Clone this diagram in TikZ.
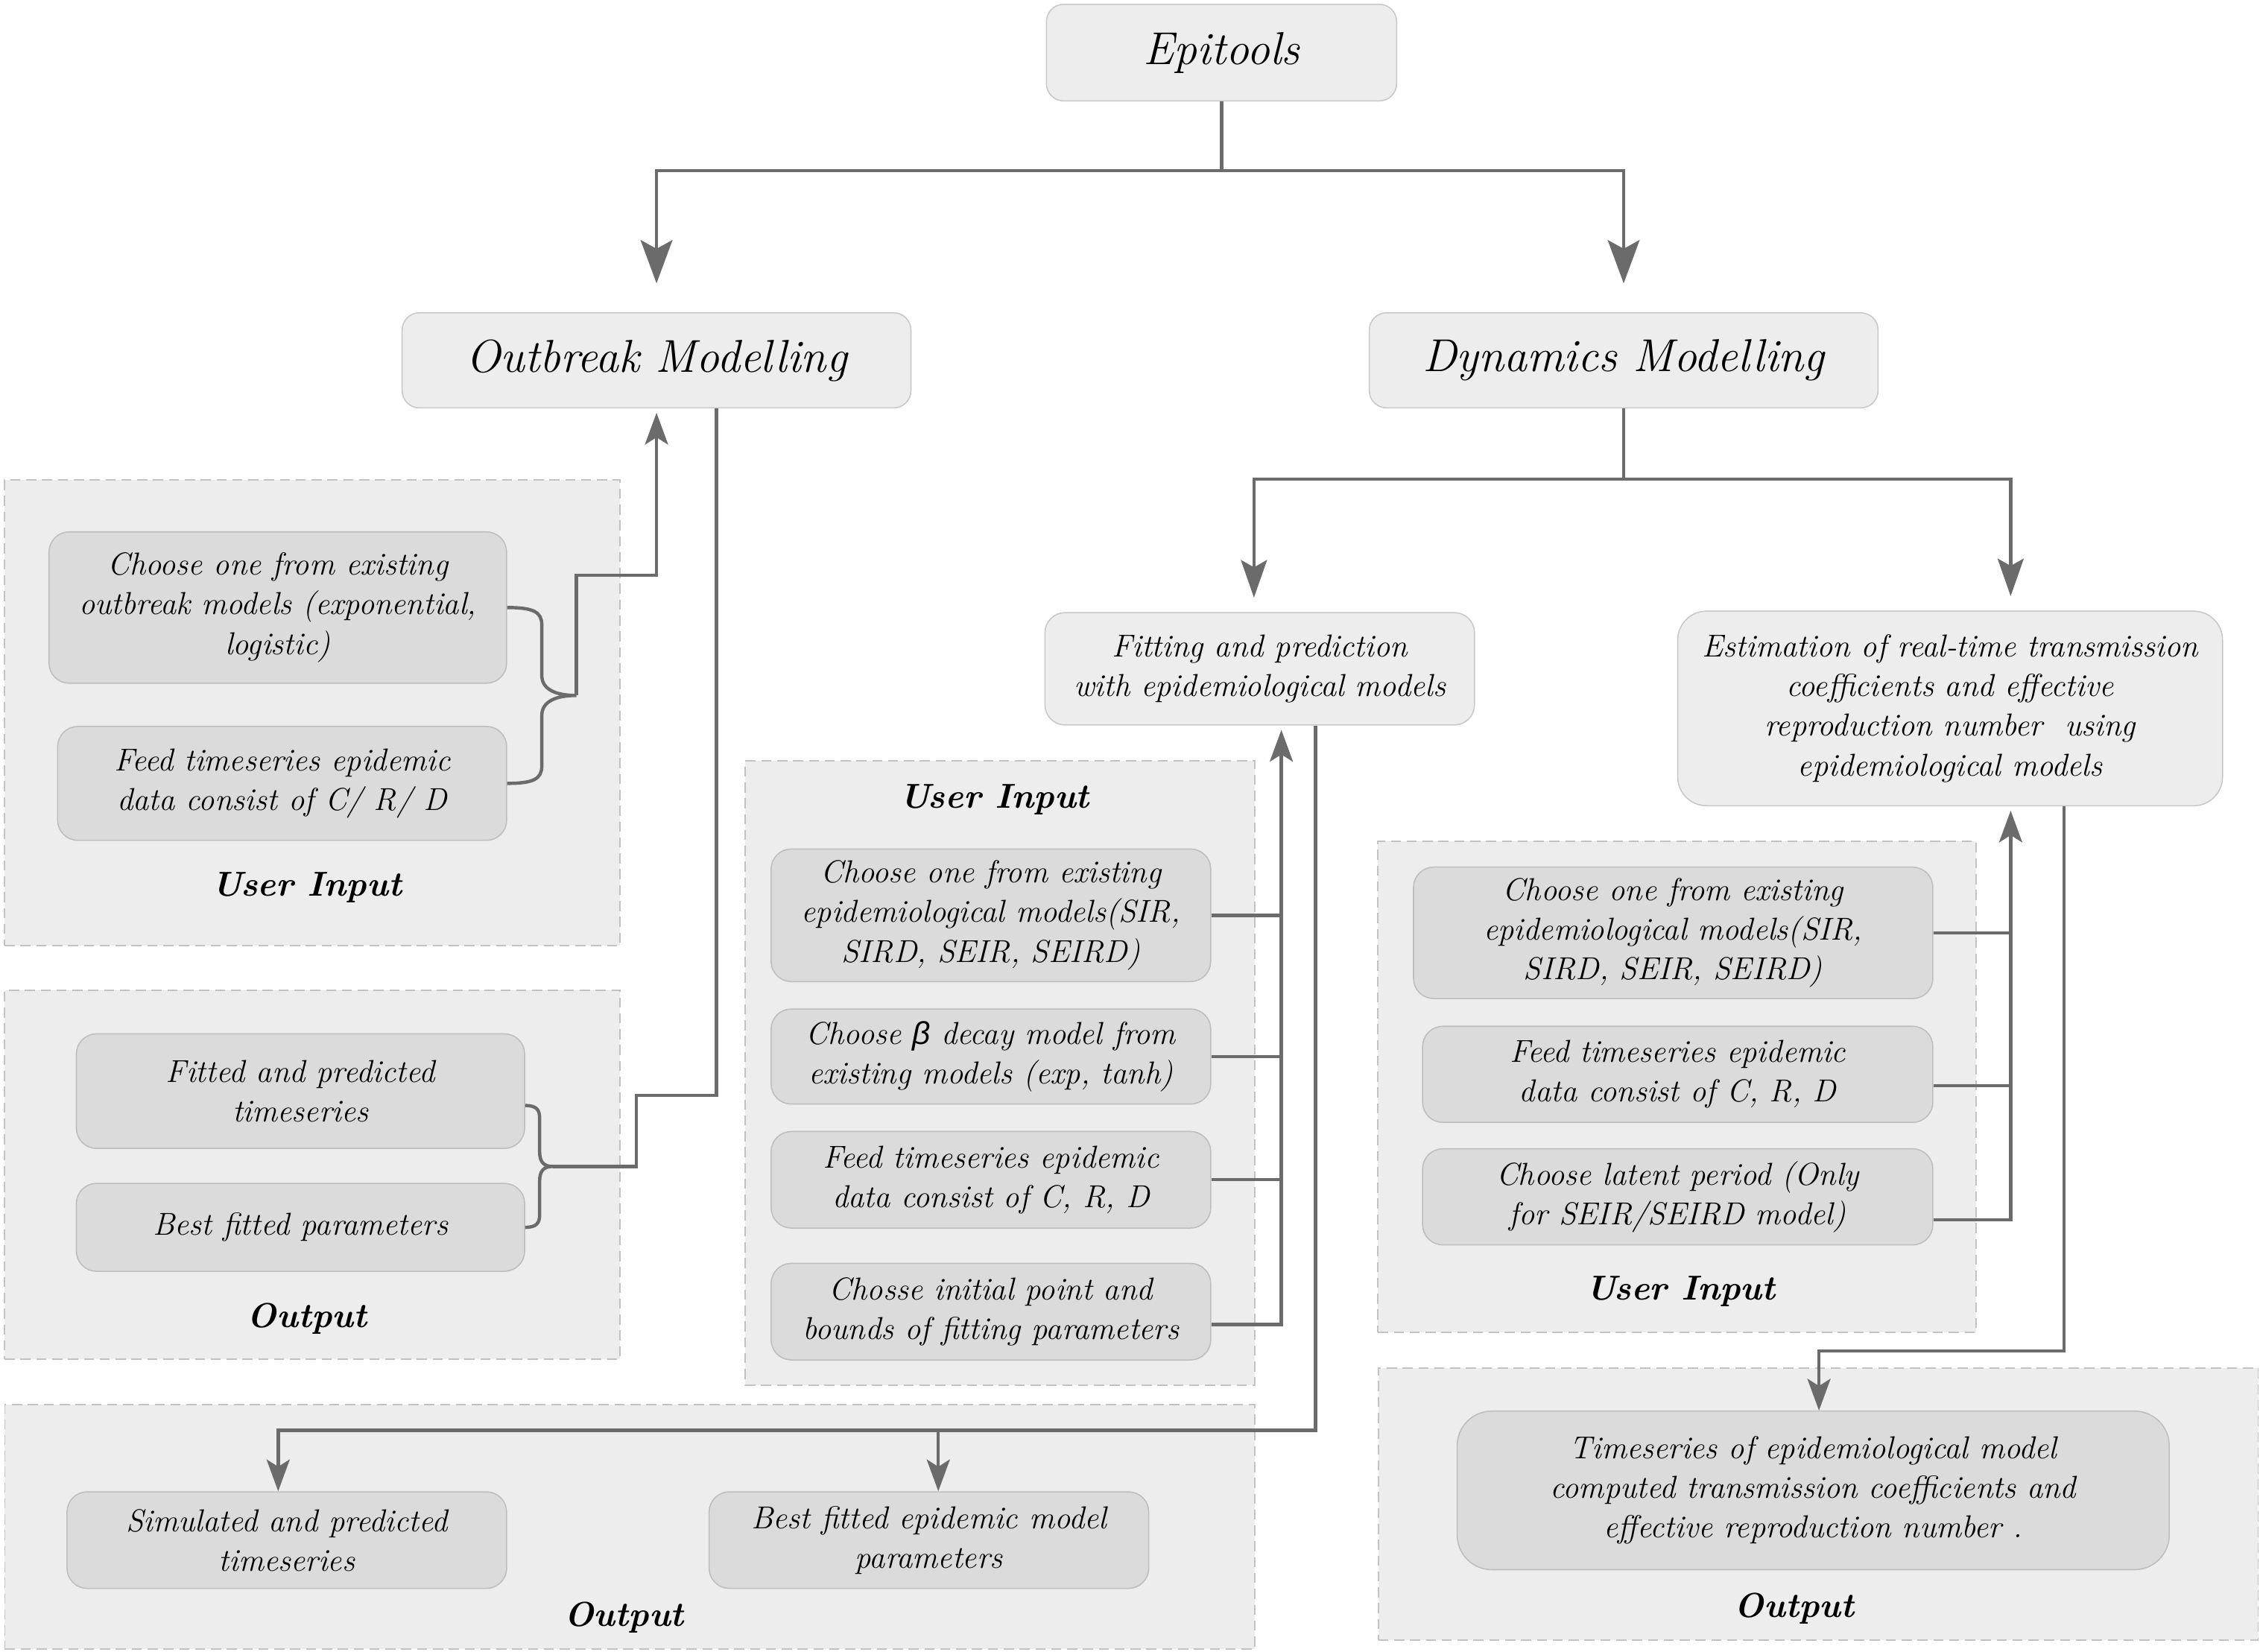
\documentclass[tikz,border=0pt]{standalone}
\usepackage{fontspec}
\newfontfamily\greekfont{Liberation Sans}
\usetikzlibrary{arrows.meta,positioning}
\definecolor{panelfill}{HTML}{EDEDED}
\definecolor{paneldraw}{HTML}{C2C2C2}
\definecolor{boxfill}{HTML}{DBDBDB}
\definecolor{boxdraw}{HTML}{BDBDBD}
\definecolor{topfill}{HTML}{EDEDED}
\definecolor{topdraw}{HTML}{C8C8C8}
\definecolor{linkgray}{HTML}{6B6B6B}

\begin{document}
\begin{tikzpicture}[x=1pt, y=-1pt,
  panel/.style={draw=paneldraw, fill=panelfill, dash pattern=on 7pt off 4pt, line width=0.9pt, inner sep=0pt},
  topbox/.style={draw=topdraw, fill=topfill, rounded corners=12pt, line width=0.8pt, inner sep=0pt, align=center, font=\fontsize{32}{38}\selectfont\itshape},
  subbox/.style={draw=boxdraw, fill=boxfill, rounded corners=14pt, line width=0.8pt, inner sep=0pt, align=center, font=\fontsize{22}{27.5}\selectfont\itshape},
  midbox/.style={subbox, fill=topfill, draw=topdraw},
  tag/.style={font=\fontsize{24}{28}\selectfont\bfseries\itshape},
  link/.style={draw=linkgray, line width=2.3pt},
  flow/.style={link, -{Stealth[length=22pt, width=16pt, inset=5pt]}},
  midflow/.style={link, -{Stealth[length=26pt, width=18pt, inset=5pt]}},
  bigflow/.style={link, -{Stealth[length=30pt, width=22pt, inset=6pt]}}]
\fill[white] (0,0) rectangle (1568,1146);
\useasboundingbox (0,0) rectangle (1568,1146);

% panels
\node [panel, minimum width=427, minimum height=323] (OINP) at (216.7,494.5) {};
\node [panel, minimum width=427, minimum height=256] (OOUTP) at (216.7,815) {};
\node [panel, minimum width=353.6, minimum height=433] (FINP) at (693.8,744.5) {};
\node [panel, minimum width=867.3, minimum height=169.4] (FOUTP) at (437,1059.3) {};
\node [panel, minimum width=415, minimum height=341] (EINP) at (1163.5,754) {};
\node [panel, minimum width=610.4, minimum height=189] (EOUTP) at (1261.5,1043.5) {};

% main boxes
\node [topbox, minimum width=243, minimum height=67] (EPI) at (847.5,36.5) {Epitools};
\node [topbox, minimum width=353, minimum height=66] (OUT) at (455.5,250) {Outbreak Modelling};
\node [topbox, minimum width=353, minimum height=66] (DYN) at (1126.5,250) {Dynamics Modelling};
\node [midbox, minimum width=298, minimum height=78] (FIT) at (874,464) {Fitting and prediction\\with epidemiological models};
\node [midbox, rounded corners=20pt, minimum width=378, minimum height=135] (EST) at (1353,491.5) {Estimation of real-time transmission\\coefficients and effective\\reproduction number\ \ using\\epidemiological models};

% outbreak modelling
\node [subbox, minimum width=317.5, minimum height=105] (OIN1) at (192.75,421.5) {Choose one from existing\\outbreak models (exponential,\\logistic)};
\node [subbox, minimum width=311.5, minimum height=79] (OIN2) at (195.75,543.5) {Feed timeseries epidemic\\data consist of C/ R/ D};
\node [tag] (OINL) at (213,616) {User Input};
\node [subbox, minimum width=311, minimum height=79.5] (OOUT1) at (208.5,757) {Fitted and predicted\\timeseries};
\node [subbox, minimum width=311, minimum height=61] (OOUT2) at (208.5,851.5) {Best fitted parameters};
\node [tag] (OOUTL) at (213,915) {Output};

% fitting and prediction
\node [tag] (FINL) at (690,555) {User Input};
\node [subbox, minimum width=305, minimum height=92] (FIN1) at (687.5,635) {Choose one from existing\\epidemiological models(SIR,\\SIRD, SEIR, SEIRD)};
\node [subbox, minimum width=305, minimum height=66] (FIN2) at (687.5,733) {Choose {\greekfont β} decay model from\\existing models (exp, tanh)};
\node [subbox, minimum width=305, minimum height=67] (FIN3) at (687.5,818.5) {Feed timeseries epidemic\\data consist of C, R, D};
\node [subbox, minimum width=305, minimum height=67] (FIN4) at (687.5,910) {Chosse initial point and\\bounds of fitting parameters};
\node [subbox, minimum width=305, minimum height=67] (FOUT1) at (199,1068.5) {Simulated and predicted\\timeseries};
\node [subbox, minimum width=305, minimum height=67] (FOUT2) at (644.5,1068.5) {Best fitted epidemic model\\parameters};
\node [tag] (FOUTL) at (433,1122) {Output};

% estimation
\node [subbox, minimum width=360.3, minimum height=91.2] (EIN1) at (1160.85,647.2) {Choose one from existing\\epidemiological models(SIR,\\SIRD, SEIR, SEIRD)};
\node [subbox, minimum width=354, minimum height=66.7] (EIN2) at (1164,745.35) {Feed timeseries epidemic\\data consist of C, R, D};
\node [subbox, minimum width=354, minimum height=66.7] (EIN3) at (1164,830.35) {Choose latent period (Only\\for SEIR/SEIRD model)};
\node [tag] (EINL) at (1166,896) {User Input};
\node [subbox, rounded corners=24pt, minimum width=494, minimum height=110] (EOUT) at (1258,1034) {Timeseries of epidemiological model\\computed transmission coefficients and\\effective reproduction number .};
\node [tag] (EOUTL) at (1245,1116) {Output};

% connectors
\draw [bigflow, shorten >=20pt] (EPI.south) -- ++(0,48) -| (OUT.north);
\draw [bigflow, shorten >=20pt] (EPI.south) -- ++(0,48) -| (DYN.north);
\draw [midflow, shorten >=10pt] (DYN.south) -- ++(0,49) -| ([xshift=-4pt]FIT.north);
\draw [midflow, shorten >=10pt] (DYN.south) -- ++(0,49) -| ([xshift=42pt]EST.north);

\draw [link] (OIN1.east) .. controls +(18,0) and +(0,-9) .. ++(24,12) -- ++(0,35) .. controls +(0,10) and +(-14,0) .. ++(24,14) coordinate (OINT) .. controls +(-14,0) and +(0,-10) .. ++(-24,14) -- ++(0,35) .. controls +(0,9) and +(18,0) .. ++(-24,12);
\draw [flow, shorten >=3pt] (OINT) -- ++(0,-83.5) -| (OUT.south);
\draw [link] ([yshift=-10pt]OOUT1.east) .. controls +(8,0) and +(0,-6) .. ++(10,9) -- ++(0,23.25) .. controls +(0,7) and +(-6,0) .. ++(9,10) coordinate (OOUTT) .. controls +(-6,0) and +(0,-7) .. ++(-9,10) -- ++(0,23.25) .. controls +(0,6) and +(8,0) .. ++(-10,9);
\draw [link] (OOUTT) -| ++(58,-49.25) -| ([xshift=41.5pt]OUT.south);

\draw [link] (FIN1.east) -- ++(49,0);
\draw [link] (FIN2.east) -- ++(49,0);
\draw [link] (FIN3.east) -- ++(49,0);
\draw [flow, shorten >=3pt] ([yshift=-9pt]FIN4.east) -| ([xshift=15pt]FIT.south);
\draw [flow] ([xshift=38.6pt]FIT.south) -- ++(0,489) -| ([xshift=-6pt]FOUT1.north);
\draw [flow] ([xshift=6.5pt,yshift=43pt]FOUT2.north) -- ([xshift=6.5pt]FOUT2.north);

\draw [link] (EIN1.east) -- ++(54,0);
\draw [link] ([yshift=-8pt]EIN2.east) -- ++(54,0);
\draw [flow, shorten >=3pt] ([yshift=-16pt]EIN3.east) -| ([xshift=42pt]EST.south);
\draw [flow] ([xshift=79pt]EST.south) -- ++(0,378) -| ([xshift=4pt]EOUT.north);
\end{tikzpicture}
\end{document}
